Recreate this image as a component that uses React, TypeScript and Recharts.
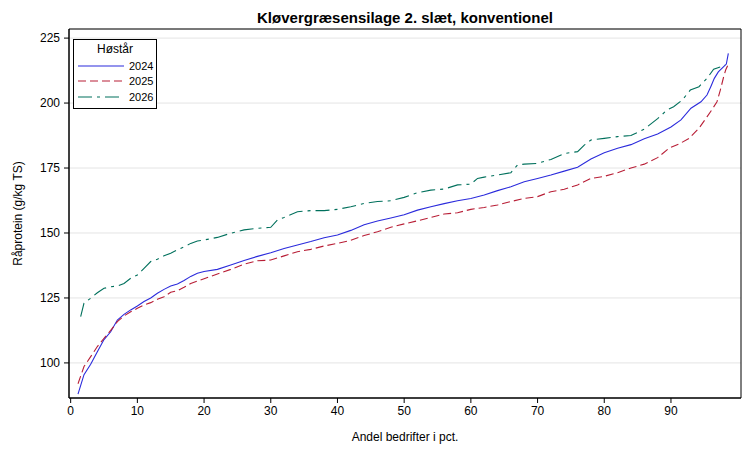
import React from 'react';
import {
  LineChart,
  Line,
  XAxis,
  YAxis,
  CartesianGrid,
  Legend,
  ReferenceArea,
} from 'recharts';

// Andel bedrifter (pct.) og råprotein (g/kg TS)
const pct2024 = [
  1.1, 2, 3, 4, 5, 6, 7, 8, 9, 10, 11, 12, 13, 14, 15, 16, 17, 18, 19, 20,
  22, 24, 26, 28, 30, 32, 34, 36, 38, 40, 42, 44, 46, 48, 50, 52, 54, 56, 58, 60,
  62, 64, 66, 68, 70, 72, 74, 76, 78, 80, 82, 84, 86, 88, 90, 91.5, 93, 94.5,
  95.4, 96, 96.5, 97.1, 97.9, 98.3, 98.6,
];
const val2024 = [
  88, 95.5, 99.5, 104.3, 109, 112, 116.5, 118.7, 120.4, 121.9, 123.6, 125, 126.8,
  128.3, 129.6, 130.4, 131.7, 133.3, 134.5, 135.2, 136, 137.7, 139.4, 141, 142.4,
  144, 145.4, 146.7, 148.2, 149.2, 151, 153.2, 154.6, 155.8, 157, 158.8, 160.1,
  161.3, 162.4, 163.3, 164.6, 166.3, 167.8, 169.7, 171, 172.3, 173.8, 175.3,
  178.5, 180.9, 182.6, 184, 186.3, 188.1, 190.8, 193.5, 198, 200.5, 203.1, 206.5,
  209.5, 212, 214, 215, 219.1,
];

const pct2025 = [
  1.1, 2, 3, 4, 5, 6, 7, 8, 9, 10, 11, 12, 13, 14, 15, 16, 17, 18, 19, 20,
  22, 24, 26, 28, 30, 32, 34, 36, 38, 40, 42, 44, 46, 48, 50, 52, 54, 56, 58, 60,
  62, 64, 66, 68, 70, 72, 74, 76, 78, 80, 82, 84, 86, 88, 89.7, 91.4, 92.7, 94.2,
  95.4, 96.1, 96.9, 97.4, 97.9, 98.2, 98.6,
];
const val2025 = [
  92, 98.6, 102.4, 106.3, 109.5, 112.5, 115.9, 118.1, 119.7, 121, 122.3, 123.2,
  124.5, 125.5, 127.2, 127.8, 129.1, 130.6, 131.5, 132.4, 134.2, 136, 138, 139.3,
  139.6, 141.2, 142.8, 143.7, 145, 146, 147.2, 149, 150.5, 152.2, 153.5, 154.7,
  156, 157.3, 157.8, 159.1, 159.8, 160.8, 162.1, 163.3, 164, 165.9, 166.8, 168.5,
  171, 171.8, 173.2, 175, 176.5, 179, 182.6, 184.5, 186.4, 190.3, 194.7, 197.3,
  200.5, 205, 210.1, 212.7, 215,
];

const pct2026 = [
  1.5, 2, 3, 4, 5, 6, 7, 8, 9, 10, 11, 12, 13, 14, 15, 16, 17, 18, 19, 20,
  22, 24, 26, 28, 30, 31, 32, 34, 36, 38, 40, 42, 44, 46, 48, 50, 52, 54, 56, 58,
  60, 61, 62, 64, 66, 67, 68, 70, 72, 74, 76, 77, 78, 80, 82, 84, 86, 88, 89.4,
  90.4, 91.7, 92.9, 94.2, 95.4, 96.4, 97.4, 98.1,
];
const val2026 = [
  117.8, 123, 124.9, 127, 128.7, 129.3, 129.6, 130.6, 132.6, 133.8, 136.4, 139,
  139.9, 141.2, 142.2, 143.5, 144.7, 146, 146.9, 147.3, 148.3, 149.9, 151.2, 151.8,
  152.2, 155, 156, 158.2, 158.6, 158.6, 159.1, 160.1, 161.4, 162.1, 162.4, 163.7,
  165.5, 166.5, 166.9, 168.5, 168.8, 171, 171.5, 172.3, 173.2, 176.2, 176.5, 176.8,
  178.3, 180.6, 181.3, 183.8, 185.8, 186.4, 187.1, 187.5, 190, 194, 197.3, 198.6,
  201.2, 205, 206.3, 209.5, 213, 213.9, 214.6,
];

const xTicks = [0, 10, 20, 30, 40, 50, 60, 70, 80, 90];
const yTicks = [100, 125, 150, 175, 200, 225];
const xDomain = [-0.25, 100.5];
const yDomain = [86.5, 228.5];

const toPoints = (xs: number[], ys: number[]) => xs.map((x, i) => ({ x, y: ys[i] }));

const series = [
  { name: '2024', data: toPoints(pct2024, val2024), color: '#2b2bdc', dash: undefined },
  { name: '2025', data: toPoints(pct2025, val2025), color: '#b81e36', dash: '8 4' },
  { name: '2026', data: toPoints(pct2026, val2026), color: '#00705c', dash: '14 5 3 5' },
];

const font = '"Liberation Sans", Arial, sans-serif';

function LegendBox() {
  return (
    <div
      style={{
        border: '1px solid #000',
        background: '#fff',
        width: 82,
        padding: '2px 0 3px 0',
        fontFamily: font,
        color: '#000',
        textAlign: 'left',
      }}
    >
      <div style={{ textAlign: 'center', fontSize: 12, lineHeight: '15px', marginBottom: 1 }}>Høstår</div>
      {series.map((s) => (
        <div key={s.name} style={{ display: 'flex', alignItems: 'center', height: 15.5 }}>
          <svg width={52} height={8} style={{ display: 'block', marginLeft: 3 }}>
            <line x1={1} y1={4} x2={47} y2={4} stroke={s.color} strokeWidth={1.2} strokeDasharray={s.dash} />
          </svg>
          <span style={{ fontSize: 11 }}>{s.name}</span>
        </div>
      ))}
    </div>
  );
}

export default function App() {
  return (
    <div style={{ position: 'absolute', left: 0, top: 0, width: 756, height: 454, background: '#fff' }}>
      <div
        style={{
          position: 'absolute',
          left: 69,
          width: 672,
          top: 9,
          textAlign: 'center',
          fontFamily: font,
          fontWeight: 'bold',
          fontSize: 15,
          lineHeight: '18px',
        }}
      >
        Kløvergræsensilage 2. slæt, konventionel
      </div>
      <LineChart width={756} height={454} margin={{ top: 29, right: 15, left: 0, bottom: 0 }}>
        <CartesianGrid xAxisId="bottom" yAxisId="left" vertical={false} stroke="#e4e4e4" />
        <XAxis
          xAxisId="bottom"
          type="number"
          dataKey="x"
          domain={xDomain}
          ticks={xTicks}
          allowDataOverflow
          height={56}
          tickSize={5}
          tickMargin={3}
          axisLine={{ stroke: '#000' }}
          tickLine={{ stroke: '#000' }}
          tick={{ fill: '#000', fontSize: 12, fontFamily: font }}
          label={{
            value: 'Andel bedrifter i pct.',
            position: 'insideBottom',
            offset: 13,
            fill: '#000',
            fontSize: 12,
            fontFamily: font,
          }}
        />
        <YAxis
          yAxisId="left"
          type="number"
          domain={yDomain}
          ticks={yTicks}
          allowDataOverflow
          width={69}
          tickSize={5}
          tickMargin={4}
          axisLine={{ stroke: '#000' }}
          tickLine={{ stroke: '#000' }}
          tick={{ fill: '#000', fontSize: 12, fontFamily: font }}
          label={{
            value: 'Råprotein (g/kg TS)',
            angle: -90,
            position: 'insideLeft',
            offset: 18,
            fill: '#000',
            fontSize: 12,
            fontFamily: font,
            style: { textAnchor: 'middle' },
          }}
        />
        {series.map((s) => (
          <Line
            key={s.name}
            xAxisId="bottom"
            yAxisId="left"
            data={s.data}
            dataKey="y"
            name={s.name}
            type="linear"
            stroke={s.color}
            strokeWidth={1.1}
            strokeDasharray={s.dash}
            dot={false}
            activeDot={false}
            isAnimationActive={false}
          />
        ))}
        <ReferenceArea
          xAxisId="bottom"
          yAxisId="left"
          x1={xDomain[0]}
          x2={xDomain[1]}
          y1={yDomain[0]}
          y2={yDomain[1]}
          fill="none"
          stroke="#000"
          strokeWidth={1}
          ifOverflow="visible"
        />
        <Legend
          verticalAlign="middle"
          align="center"
          layout="horizontal"
          content={() => <LegendBox />}
          wrapperStyle={{ position: 'absolute', left: 73, top: 39, width: 'auto' }}
        />
      </LineChart>
    </div>
  );
}
